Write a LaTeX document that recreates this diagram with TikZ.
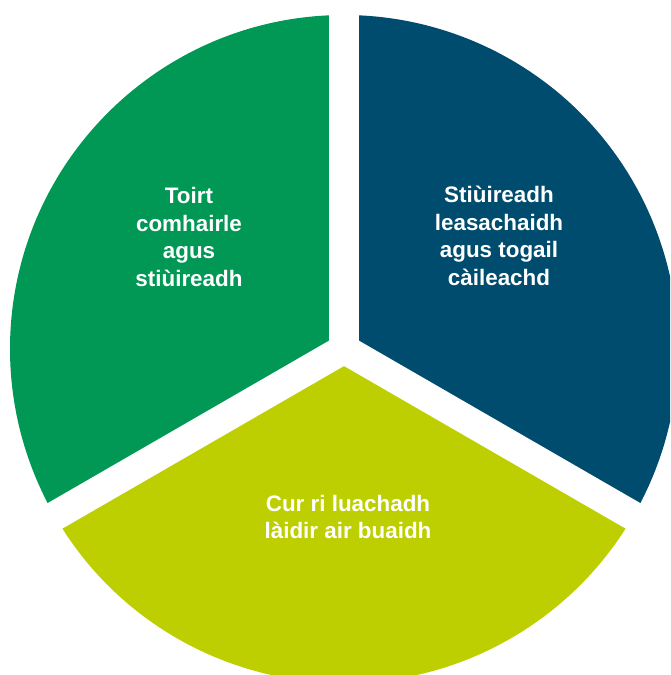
\documentclass[tikz,border=0pt]{standalone}
\usepackage{fontspec}
\setmainfont{Liberation Sans}
\definecolor{pgreen}{RGB}{0,152,84}
\definecolor{pblue}{RGB}{0,76,110}
\definecolor{plime}{RGB}{189,207,0}
\begin{document}
\begin{tikzpicture}[x=1pt,y=1pt,
  lbl/.style={text=white,align=center,font=\fontsize{22.4}{27.5}\selectfont\bfseries,inner sep=0pt},
  gapline/.style={white,line width=29.4pt}]
\useasboundingbox (0,0) rectangle (670,-675);
\clip (0,0) rectangle (670,-675);
\coordinate (c) at (344,-349);
\fill[pgreen] (c) -- ++(90:334) arc[start angle=90,end angle=210,radius=334] -- cycle;
\fill[pblue] (c) -- ++(-30:334) arc[start angle=-30,end angle=90,radius=334] -- cycle;
\fill[plime] (c) -- ++(210:334) arc[start angle=210,end angle=330,radius=334] -- cycle;
\draw[gapline] (c) -- ++(90:360);
\draw[gapline] (c) -- ++(210:360);
\draw[gapline] (c) -- ++(330:360);
\fill[white] (c) circle (10);
\node[lbl] (t1) at (189,-237) {Toirt\\comhairle\\agus\\stiùireadh};
\node[lbl] (t2) at (499,-236) {Stiùireadh\\leasachaidh\\agus togail\\càileachd};
\node[lbl] (t3) at (348,-517) {Cur ri luachadh\\làidir air buaidh};
\end{tikzpicture}
\end{document}
